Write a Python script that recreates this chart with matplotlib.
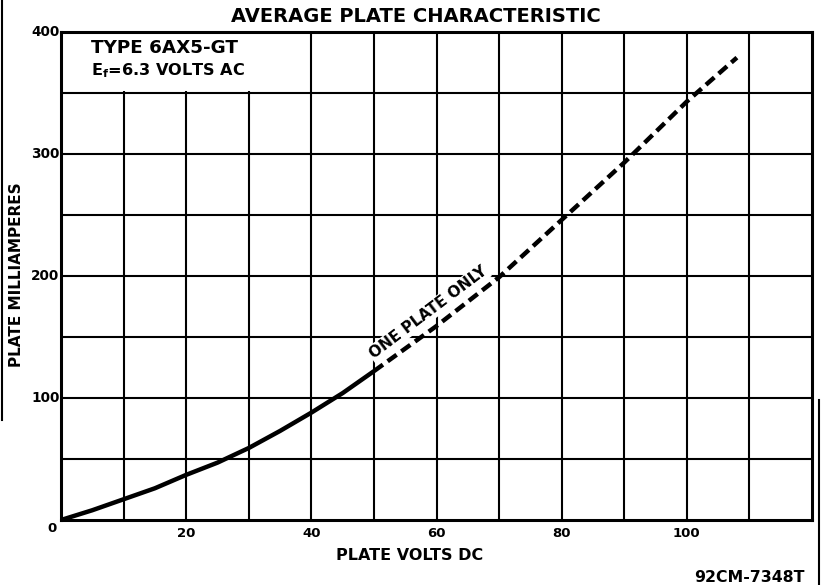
import matplotlib
matplotlib.use("Agg")
import matplotlib.pyplot as plt
from matplotlib.lines import Line2D
from matplotlib.patches import Rectangle
import numpy as np

# Data
plate_volts = [0, 5, 10, 15, 20, 25, 30, 35, 40, 45, 50, 60, 70, 80, 90, 100, 108]
plate_ma = [0, 8, 17, 26, 37, 47, 59, 73, 88, 104, 122, 159, 199, 246, 293, 343, 379]
solid_limit = 50  # "one plate only" dashed beyond this voltage

x_ticks = [20, 40, 60, 80, 100]
x_tick_labels = ["20", "40", "60", "80", "100"]
y_ticks = [100, 200, 300, 400]
y_tick_labels = ["100", "200", "300", "400"]

plt.rcParams['font.family'] = ['DejaVu Sans']

fig = plt.figure(figsize=(8.23, 5.85), dpi=100)
ax = fig.add_axes([61/823, 65/585, 751/823, 488/585])
ax.set_xlim(0, 120)
ax.set_ylim(0, 400)

# grid
for gx in np.arange(10, 120, 10):
    ax.axvline(gx, color='black', lw=1.5, zorder=1)
for gy in np.arange(50, 400, 50):
    ax.axhline(gy, color='black', lw=1.5, zorder=1)
for s in ax.spines.values():
    s.set_linewidth(2.2)

xv = np.array(plate_volts, dtype=float)
yv = np.array(plate_ma, dtype=float)
m1 = xv <= solid_limit
m2 = xv >= solid_limit
ax.plot(xv[m1], yv[m1], color='black', lw=3.2, solid_capstyle='butt', zorder=5)
ax.plot(xv[m2], yv[m2], color='black', lw=3.2, dashes=(2.5, 1.3),
        dash_capstyle='butt', zorder=5)

ax.set_xticks(x_ticks)
ax.set_xticklabels(x_tick_labels, fontsize=9.5, fontweight='bold')
ax.set_yticks(y_ticks)
ax.set_yticklabels(y_tick_labels, fontsize=9.8, fontweight='bold')
ax.tick_params(axis='both', length=0)
ax.tick_params(axis='x', pad=5)
ax.tick_params(axis='y', pad=1)
for lab in ax.get_yticklabels():
    lab.set_verticalalignment('center')

# label box top-left
ax.add_patch(Rectangle((0.4, 351.5), 39.2, 47.5, facecolor='white', edgecolor='none', zorder=2))
ax.text(4.8, 387, "TYPE 6AX5-GT", fontsize=13.2, fontweight='bold', ha='left', va='center', zorder=3)
ax.text(4.8, 368, r"E$_\mathbf{f}$=6.3 VOLTS AC", fontsize=11.6, fontweight='bold',
        ha='left', va='center', zorder=3)

ax.text(58.7, 170, "ONE PLATE ONLY", fontsize=11, fontweight='bold', rotation=37,
        ha='center', va='center', rotation_mode='anchor', zorder=3,
        bbox=dict(facecolor='white', edgecolor='none', pad=1.0))

fig.text(416/823, 1 - 16/585, "AVERAGE PLATE CHARACTERISTIC", fontsize=14,
         fontweight='bold', ha='center', va='center')
fig.text(410/823, 1 - 555/585, "PLATE VOLTS DC", fontsize=11.5, fontweight='bold',
         ha='center', va='center')
fig.text(17/823, 1 - 275/585, "PLATE MILLIAMPERES", fontsize=11, fontweight='bold',
         ha='center', va='center', rotation=90)
fig.text(52/823, 1 - 528/585, "0", fontsize=9.5, fontweight='bold', ha='center', va='center')
fig.text(805/823, 1 - 577/585, "92CM-7348T", fontsize=11.3, fontweight='bold',
         ha='right', va='center')

# scan border artifacts
fig.add_artist(Line2D([1.5/823, 1.5/823], [1 - 420/585, 1.0], color='black', lw=1.5))
fig.add_artist(Line2D([819/823, 819/823], [0, 1 - 400/585], color='black', lw=1.5))

fig.savefig("out.png", dpi=100)
